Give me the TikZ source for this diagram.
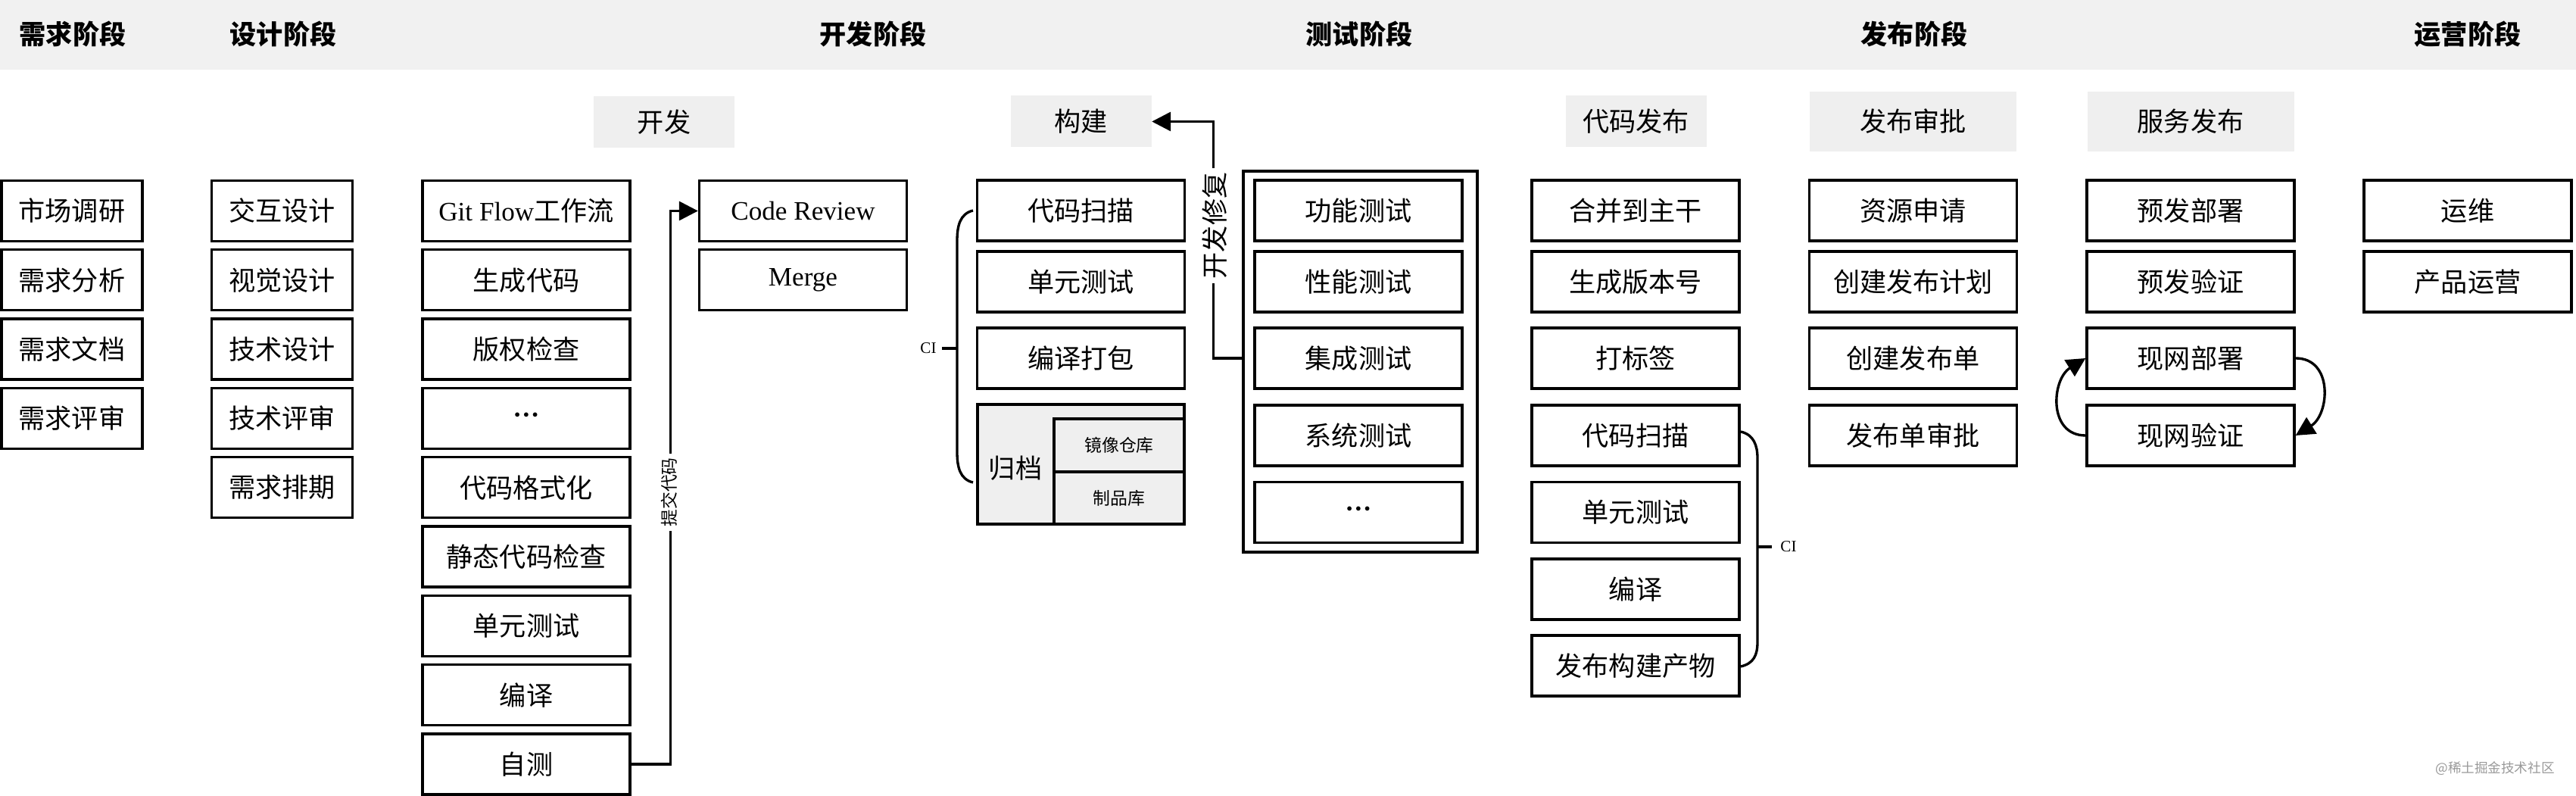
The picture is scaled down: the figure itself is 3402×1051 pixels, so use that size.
\documentclass[tikz,border=0pt]{standalone}
\usepackage{fontspec}
\setmainfont{Noto Sans CJK SC}
\newfontfamily\tnr{Liberation Serif}
\usetikzlibrary{arrows.meta,calc}
\definecolor{band}{RGB}{241,241,241}
\definecolor{subfill}{RGB}{239,239,239}
\begin{document}
\begin{tikzpicture}[x=0.1mm,y=-0.1mm,
  every node/.style={inner sep=0pt, font=\fontsize{10pt}{12pt}\selectfont},
  box/.style={draw=black, line width=0.95pt, minimum height=8mm, minimum width=27.4mm},
  sbox/.style={box, minimum width=18.6mm},
  sub/.style={fill=subfill, minimum height=6.8mm, minimum width=18.6mm},
  wsub/.style={fill=subfill, minimum height=7.9mm, minimum width=27.3mm},
  title/.style={font=\fontsize{10pt}{12pt}\selectfont\bfseries},
  conn/.style={line width=0.95pt},
  arr/.style={conn, -{Triangle[length=2.5mm,width=2.5mm]}},
  small/.style={font=\fontsize{6.5pt}{8pt}\selectfont},
  tiny/.style={font=\tnr\fontsize{6pt}{7pt}\selectfont},
  lbl/.style={fill=white, rotate=90, inner ysep=1pt, inner xsep=1.5pt}
]
\useasboundingbox (0,0) rectangle (3402,1051);
% header band
\fill[band] (0,0) rectangle (3402,92);
\node[title] (h1) at (96,45) {需求阶段};
\node[title] (h2) at (374,45) {设计阶段};
\node[title] (h3) at (1153,45) {开发阶段};
\node[title] (h4) at (1795,45) {测试阶段};
\node[title] (h5) at (2528,45) {发布阶段};
\node[title] (h6) at (3259,45) {运营阶段};
% sub headers
\node[sub] (kf) at (877,161) {开发};
\node[sub] (gj) at (1427.5,160.5) {构建};
\node[sub] (dmfb) at (2160.5,160) {代码发布};
\node[wsub] (fbsp) at (2526.5,160.5) {发布审批};
\node[wsub] (fwfb) at (2893,160.5) {服务发布};
% requirement column
\node[sbox] (a1) at (95,278.5) {市场调研};
\node[sbox] (a2) at (95,369.8) {需求分析};
\node[sbox] (a3) at (95,461.1) {需求文档};
\node[sbox] (a4) at (95,552.4) {需求评审};
% design column
\node[sbox] (b1) at (372.5,278.5) {交互设计};
\node[sbox] (b2) at (372.5,369.8) {视觉设计};
\node[sbox] (b3) at (372.5,461.1) {技术设计};
\node[sbox] (b4) at (372.5,552.4) {技术评审};
\node[sbox] (b5) at (372.5,643.7) {需求排期};
% development column
\node[box] (c1) at (695,278.5) {{\tnr Git Flow}工作流};
\node[box] (c2) at (695,369.8) {生成代码};
\node[box] (c3) at (695,461.1) {版权检查};
\node[box] (c4) at (695,552.4) {\tnr\bfseries ···};
\node[box] (c5) at (695,643.7) {代码格式化};
\node[box] (c6) at (695,735) {静态代码检查};
\node[box] (c7) at (695,826.3) {单元测试};
\node[box] (c8) at (695,917.6) {编译};
\node[box] (c9) at (695,1008.9) {自测};
\node[box] (cr) at (1060.5,278.5) {\tnr Code Review};
\node[box] (mg) at (1060.5,369.8) {\tnr Merge};
\draw[arr] (c9.east) -- ++(52,0) |- (cr.west);
\node[lbl, small] (l1) at (884,650) {提交代码};
% build column
\node[box] (d1) at (1427.5,278) {代码扫描};
\node[box] (d2) at (1427.5,372) {单元测试};
\node[box] (d3) at (1427.5,473) {编译打包};
\node[draw, fill=subfill, line width=0.95pt, minimum width=27.3mm, minimum height=15.8mm] (gd) at (1427.5,613) {};
\node (gdt) at (1341,618) {归档};
\node[draw, line width=0.95pt, minimum width=17.2mm, minimum height=7mm, small] (jx) at (1478,588) {镜像仓库};
\node[draw, line width=0.95pt, minimum width=17.2mm, minimum height=6.9mm, small] (zp) at (1478,657.5) {制品库};
% left CI bracket
\draw[conn] (1285,278) .. controls (1268,282) and (1264,298) .. (1264,318) -- (1264,597) .. controls (1264,617) and (1268,633) .. (1285,637);
\draw[conn] (1264,460) -- (1244,460);
\node[tiny] (ci1) at (1226,460) {CI};
% test container
\node[draw, line width=0.95pt, minimum width=30.9mm, minimum height=50.3mm] (tc) at (1796.5,477.5) {};
\node[box] (t1) at (1794,278) {功能测试};
\node[box] (t2) at (1794,372) {性能测试};
\node[box] (t3) at (1794,473) {集成测试};
\node[box] (t4) at (1794,575) {系统测试};
\node[box] (t5) at (1794,676.5) {\tnr\bfseries ···};
\draw[arr] (tc.west |- t3.center) -- ++(-38,0) |- (gj.east);
\node[lbl] (l2) at (1604,298) {开发修复};
% release: code release
\node[box] (e1) at (2160,278) {合并到主干};
\node[box] (e2) at (2160,372) {生成版本号};
\node[box] (e3) at (2160,473) {打标签};
\node[box] (e4) at (2160,575) {代码扫描};
\node[box] (e5) at (2160,676.5) {单元测试};
\node[box] (e6) at (2160,778) {编译};
\node[box] (e7) at (2160,879) {发布构建产物};
\draw[conn] (2299,570) .. controls (2316,574) and (2321,588) .. (2321,605) -- (2321,848) .. controls (2321,865) and (2316,876) .. (2299,880);
\draw[conn] (2321,722) -- (2340,722);
\node[tiny] (ci2) at (2362,722) {CI};
% release approval
\node[box] (f1) at (2526.5,278) {资源申请};
\node[box] (f2) at (2526.5,372) {创建发布计划};
\node[box] (f3) at (2526.5,473) {创建发布单};
\node[box] (f4) at (2526.5,575) {发布单审批};
% service release
\node[box] (g1) at (2893,278) {预发部署};
\node[box] (g2) at (2893,372) {预发验证};
\node[box] (g3) at (2893,473) {现网部署};
\node[box] (g4) at (2893,575) {现网验证};
\draw[arr] (g3.east) .. controls +(50,0) and +(45,-28) .. (g4.east);
\draw[arr] (g4.west) .. controls +(-50,0) and +(-45,28) .. (g3.west);
% operations
\node[box] (o1) at (3259,278) {运维};
\node[box] (o2) at (3259,372) {产品运营};
% watermark
\node[font=\fontsize{5pt}{6pt}\selectfont, text=black!40] (wm) at (3295,1015) {@稀土掘金技术社区};
\end{tikzpicture}
\end{document}
